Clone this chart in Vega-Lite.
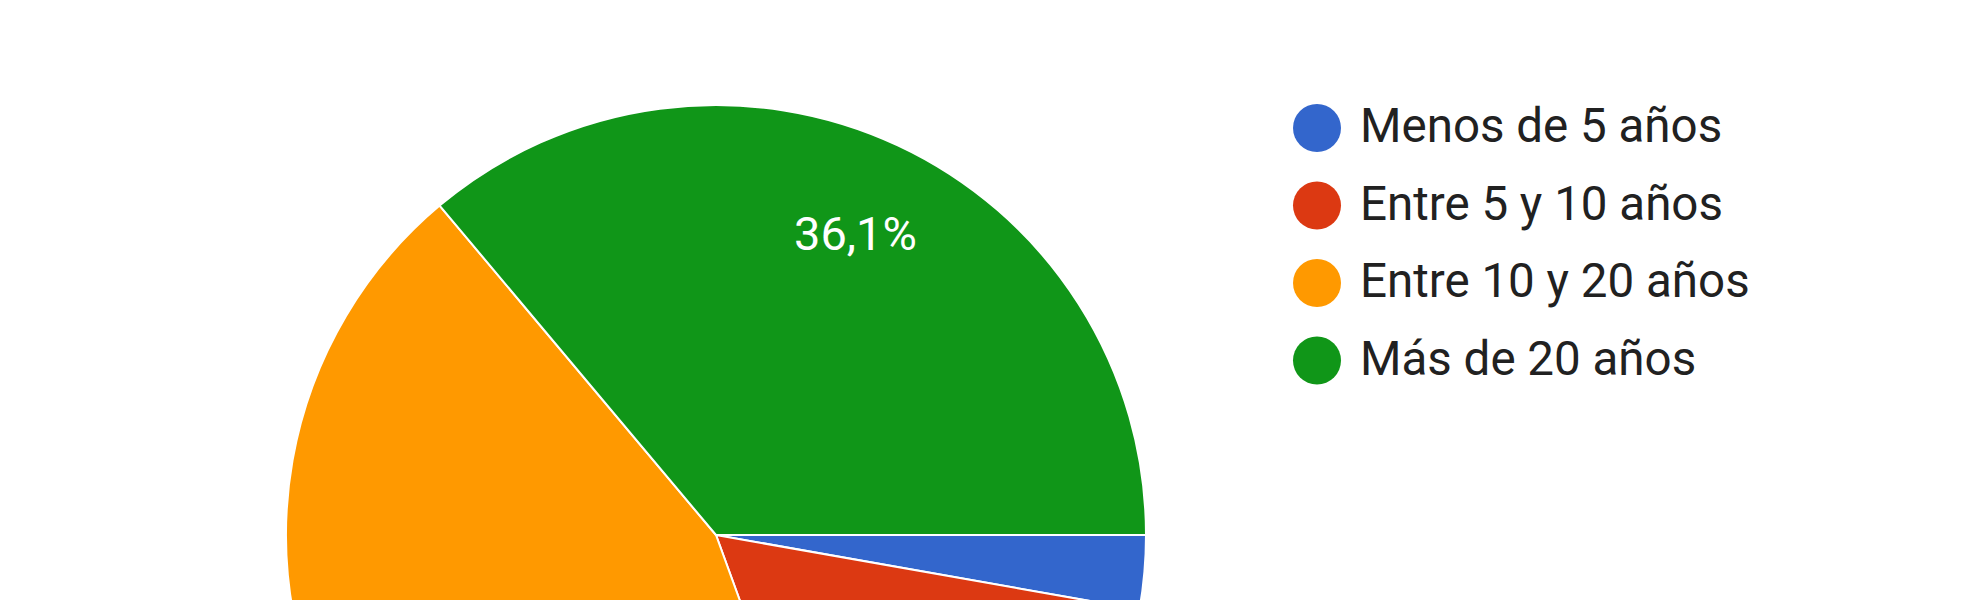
{
  "$schema": "https://vega.github.io/schema/vega-lite/v6.json",
  "width": 1432,
  "height": 1070,
  "padding": {"left": 0, "top": 0, "right": 548, "bottom": 0},
  "autosize": {"type": "none"},
  "background": "#ffffff",
  "config": {"view": {"stroke": null}, "font": "Roboto"},
  "data": {
    "values": [
      {"respuesta": "Menos de 5 años", "orden": 1, "n": 1, "pct": "2,8%"},
      {"respuesta": "Entre 5 y 10 años", "orden": 2, "n": 6, "pct": "16,7%"},
      {"respuesta": "Entre 10 y 20 años", "orden": 3, "n": 16, "pct": "44,4%"},
      {"respuesta": "Más de 20 años", "orden": 4, "n": 13, "pct": "36,1%"}
    ]
  },
  "encoding": {
    "theta": {"field": "n", "type": "quantitative", "stack": true, "scale": {"range": [1.5708, 7.854]}},
    "order": {"field": "orden", "type": "quantitative"},
    "color": {
      "field": "respuesta",
      "type": "nominal",
      "scale": {
        "domain": ["Menos de 5 años", "Entre 5 y 10 años", "Entre 10 y 20 años", "Más de 20 años"],
        "range": ["#3366cc", "#dc3912", "#ff9900", "#109618"]
      },
      "legend": {
        "title": null,
        "orient": "none",
        "legendX": 1293,
        "legendY": 104,
        "padding": 0,
        "symbolType": "circle",
        "symbolSize": 2304,
        "symbolStrokeWidth": 0,
        "symbolOpacity": 1,
        "labelFont": "Roboto",
        "labelFontSize": 47.5,
        "labelColor": "#212121",
        "labelOffset": 19,
        "labelLimit": 600,
        "rowPadding": 29.5
      }
    }
  },
  "layer": [
    {
      "mark": {"type": "arc", "outerRadius": 430, "stroke": "#ffffff", "strokeWidth": 2}
    },
    {
      "mark": {"type": "text", "radius": 330, "font": "Roboto", "fontSize": 47, "align": "center", "baseline": "middle"},
      "encoding": {
        "text": {"condition": {"test": "datum.respuesta !== 'Más de 20 años'", "value": ""}, "field": "pct", "type": "nominal"},
        "color": {"value": "#ffffff"}
      }
    }
  ]
}
